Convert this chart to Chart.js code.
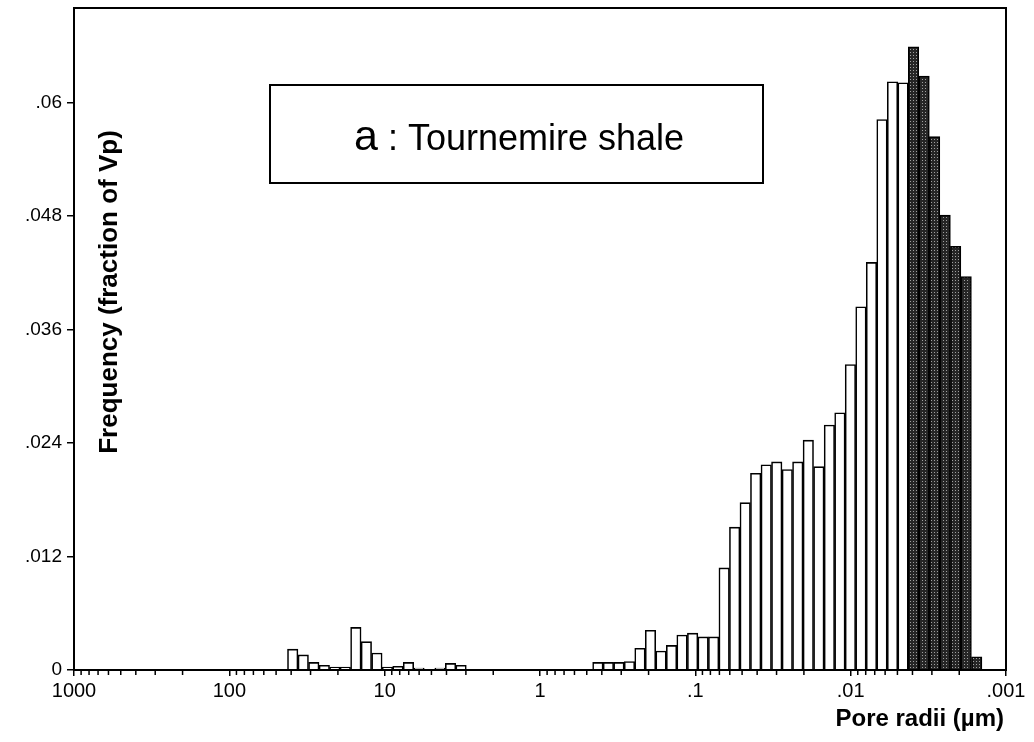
<!DOCTYPE html>
<html>
<head>
<meta charset="utf-8">
<script src="https://cdn.jsdelivr.net/npm/chart.js@4.4.1/dist/chart.umd.min.js"></script>
<style>
  body { margin: 0; background: #fff; }
  #wrap { width: 1034px; height: 742px; }
</style>
</head>
<body>
<div id="wrap"><canvas id="myChart"></canvas></div>
<script>
// bin centres, pore radius in µm (large to small, as plotted left to right)
const radii = [39.08, 33.43, 28.60, 24.47, 20.94, 17.92, 15.33, 13.12, 11.22, 9.601, 8.212, 7.028, 6.013, 4.401, 3.766, 3.222,
  0.4240, 0.3628, 0.3104, 0.2655, 0.2272, 0.1944, 0.1663, 0.1423, 0.1218, 0.1041, 0.08913, 0.07625,
  0.06523, 0.05582, 0.04775, 0.04087, 0.03496, 0.02991, 0.02559, 0.02190, 0.01874, 0.01603, 0.01371, 0.01173,
  0.01004, 0.008587, 0.007346, 0.006286, 0.005378, 0.004601, 0.003937, 0.003368, 0.002882, 0.002465, 0.002110, 0.001805, 0.001544];

// frequency (fraction of Vp) for each bin
const freq = [0.0022, 0.0016, 0.0008, 0.0005, 0.0003, 0.0003, 0.0045, 0.0030, 0.0018, 0.0003, 0.0004, 0.0008, 0.0002, 0.0002, 0.0007, 0.0005,
  0.0008, 0.0008, 0.0008, 0.0009, 0.0023, 0.0042, 0.0020, 0.0026, 0.0037, 0.0039, 0.0035, 0.0035,
  0.0108, 0.0151, 0.0177, 0.0208, 0.0217, 0.0220, 0.0212, 0.0220, 0.0243, 0.0215, 0.0259, 0.0272,
  0.0323, 0.0384, 0.0431, 0.0582, 0.0622, 0.0621, 0.0659, 0.0628, 0.0564, 0.0481, 0.0448, 0.0416, 0.0014];

// bins below this radius are drawn shaded
const shadedBelow = 0.0042;

const xTicks = [1000, 100, 10, 1, 0.1, 0.01, 0.001];
const xTickLabels = ['1000', '100', '10', '1', '.1', '.01', '.001'];
const yTicks = [0, 0.012, 0.024, 0.036, 0.048, 0.06];

Chart.defaults.font.family = "'Liberation Sans', Arial, Helvetica, sans-serif";
Chart.defaults.color = '#000';

// speckled dark fill for the shaded bars
function makeStipple() {
    const c = document.createElement('canvas');
    c.width = 3; c.height = 3;
    const g = c.getContext('2d');
    g.fillStyle = '#262626';
    g.fillRect(0, 0, 3, 3);
    g.fillStyle = '#a0a0a0';
    g.fillRect(1, 1, 1, 1);
    return g.createPattern(c, 'repeat');
}
const stipple = makeStipple();

// frame, minor ticks, axis titles and the label box
const extras = {
    id: 'extras',
    afterDraw(chart) {
        const ctx = chart.ctx;
        const a = chart.chartArea;
        const xs = chart.scales.x;
        ctx.save();
        ctx.strokeStyle = '#000';
        ctx.lineWidth = 2;
        ctx.strokeRect(a.left, a.top, a.right - a.left, a.bottom - a.top);

        ctx.lineWidth = 1.5;
        ctx.beginPath();
        xTicks.forEach(function(d) {
            if (d >= 1000) return;
            for (let m = 2; m <= 9; m++) {
                const px = xs.getPixelForValue(d * m);
                ctx.moveTo(px, a.bottom);
                ctx.lineTo(px, a.bottom + 5);
            }
        });
        ctx.stroke();

        // x title, right aligned under the axis
        ctx.fillStyle = '#000';
        ctx.font = "bold 24px 'Liberation Sans', Arial, sans-serif";
        ctx.textAlign = 'right';
        ctx.textBaseline = 'middle';
        ctx.fillText('Pore radii (µm)', a.right - 2, 719);

        // y title sits inside the plot
        ctx.font = "bold 26px 'Liberation Sans', Arial, sans-serif";
        ctx.textAlign = 'center';
        ctx.translate(110, 292);
        ctx.rotate(-Math.PI / 2);
        ctx.fillText('Frequency (fraction of Vp)', 0, 0);
        ctx.restore();

        ctx.save();
        ctx.strokeStyle = '#000';
        ctx.lineWidth = 2;
        ctx.strokeRect(270, 85, 493, 98);
        const bigFont = "43px 'Liberation Sans', Arial, sans-serif";
        const smallFont = "36px 'Liberation Sans', Arial, sans-serif";
        const rest = ' : Tournemire shale';
        ctx.font = bigFont;
        const wa = ctx.measureText('a').width;
        ctx.font = smallFont;
        const wr = ctx.measureText(rest).width;
        let tx = 519 - (wa + wr) / 2;
        ctx.fillStyle = '#000';
        ctx.textBaseline = 'alphabetic';
        ctx.textAlign = 'left';
        ctx.font = bigFont;
        ctx.fillText('a', tx, 150);
        ctx.font = smallFont;
        ctx.fillText(rest, tx + wa, 150);
        ctx.restore();
    }
};

const ctx = document.getElementById('myChart').getContext('2d');
const myChart = new Chart(ctx, {
    type: 'bar',
    data: {
        datasets: [{
            data: radii.map(function(r, i) { return { x: r, y: freq[i] }; }),
            backgroundColor: function(c) {
                return radii[c.dataIndex] < shadedBelow ? stipple : '#ffffff';
            },
            borderColor: '#000',
            borderWidth: 1.6,
            barPercentage: 1,
            categoryPercentage: 1
        }]
    },
    options: {
        responsive: true,
        maintainAspectRatio: false,
        animation: false,
        layout: { padding: { top: 8, right: 28, bottom: 10, left: 0 } },
        plugins: {
            legend: { display: false },
            tooltip: { enabled: false }
        },
        scales: {
            x: {
                type: 'logarithmic',
                reverse: true,
                min: 0.001,
                max: 1000,
                offset: false,
                afterBuildTicks: function(scale) {
                    scale.ticks = xTicks.map(function(v) { return { value: v }; });
                },
                afterFit: function(scale) { scale.height = 62; },
                grid: { display: true, drawOnChartArea: false, offset: false, tickLength: 6, color: '#000', lineWidth: 1.5 },
                border: { display: true, color: '#000', width: 2 },
                ticks: {
                    autoSkip: false,
                    maxRotation: 0,
                    padding: 3,
                    font: { size: 20 },
                    callback: function(value) {
                        const i = xTicks.indexOf(value);
                        return i >= 0 ? xTickLabels[i] : '';
                    }
                }
            },
            y: {
                min: 0,
                max: 0.07,
                afterBuildTicks: function(scale) {
                    scale.ticks = yTicks.map(function(v) { return { value: v }; });
                },
                afterFit: function(scale) {
                    scale.width = 74;
                    scale.paddingTop = 0;
                },
                grid: { display: true, drawOnChartArea: false, tickLength: 7, color: '#000', lineWidth: 1.5 },
                border: { display: true, color: '#000', width: 2 },
                ticks: {
                    padding: 5,
                    font: { size: 19 },
                    callback: function(value) {
                        return value === 0 ? '0' : String(value).replace(/^0/, '');
                    }
                }
            }
        }
    },
    plugins: [extras]
});
</script>
</body>
</html>
